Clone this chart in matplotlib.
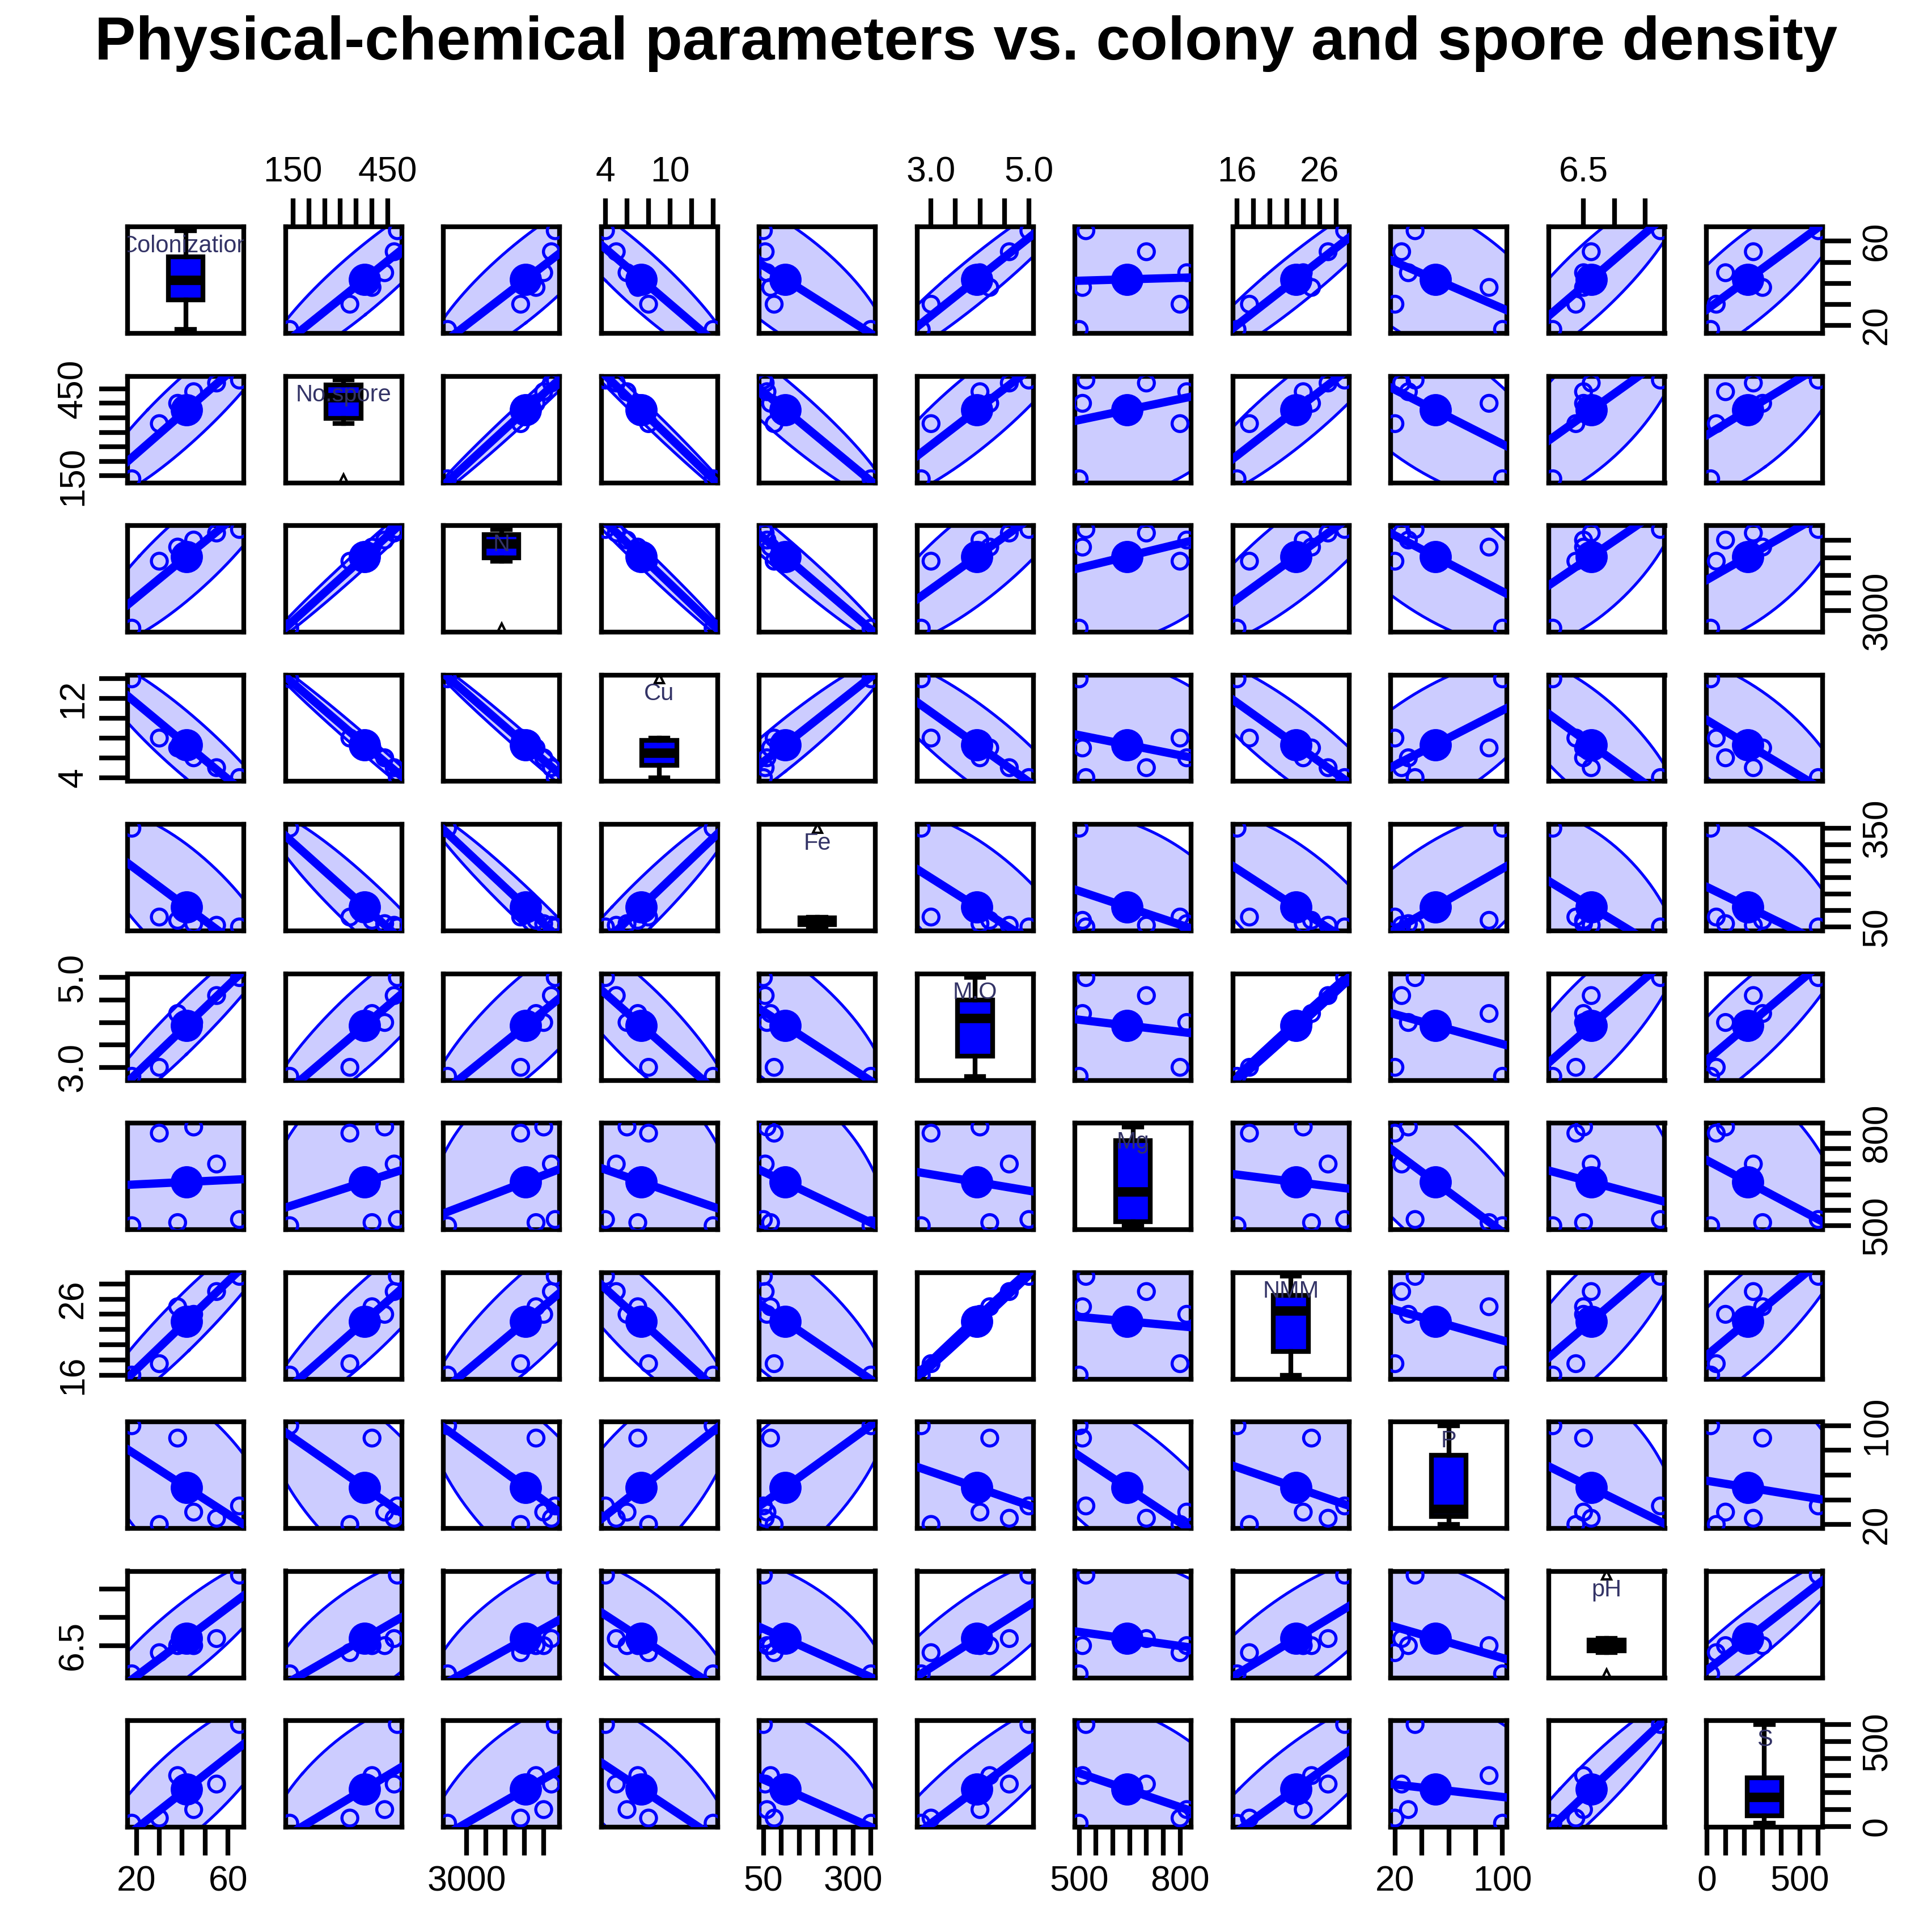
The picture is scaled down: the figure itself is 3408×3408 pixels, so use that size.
import numpy as np
import matplotlib
matplotlib.use("Agg")
import matplotlib.pyplot as plt

plt.rcParams["font.family"] = ["Liberation Sans", "DejaVu Sans"]

names = ["Colonization", "No.spore", "N", "Cu", "Fe", "M.O", "Mg", "NMM", "P", "pH", "S"]
colonization = [18, 30, 38, 45, 55, 65]
no_spore = [140, 330, 400, 440, 470, 480]
n_total = [2500, 4400, 4800, 5000, 5200, 5300]
cu = [14, 8, 7, 6, 5, 4]
fe = [350, 80, 70, 60, 55, 50]
mo = [2.8, 3.0, 4.2, 4.0, 4.6, 5.0]
mg = [500, 800, 510, 820, 700, 520]
nmm = [16, 17.5, 25, 24, 27, 29]
p = [100, 20, 90, 30, 25, 35]
ph = [6.3, 6.45, 6.5, 6.5, 6.55, 7.0]
s = [20, 50, 300, 100, 250, 600]
data = [colonization, no_spore, n_total, cu, fe, mo, mg, nmm, p, ph, s]

# ticks and which of them get labels
ticks = [
    ([20, 30, 40, 50, 60], ["20", "", "", "", "60"]),
    ([150, 200, 250, 300, 350, 400, 450], ["150", "", "", "", "", "", "450"]),
    ([3000, 3500, 4000, 4500, 5000, 5500], ["3000", "", "", "", "", ""]),
    ([4, 6, 8, 10, 12, 14], ["4", "", "", "10", "", ""]),
    ([50, 100, 150, 200, 250, 300, 350], ["50", "", "", "", "", "300", ""]),
    ([3.0, 3.5, 4.0, 4.5, 5.0], ["3.0", "", "", "", "5.0"]),
    ([500, 550, 600, 650, 700, 750, 800], ["500", "", "", "", "", "", "800"]),
    ([16, 18, 20, 22, 24, 26, 28, 30], ["16", "", "", "", "", "26", "", ""]),
    ([20, 40, 60, 80, 100], ["20", "", "", "", "100"]),
    ([6.5, 6.7, 6.9], ["6.5", "", ""]),
    ([0, 100, 200, 300, 400, 500, 600], ["0", "", "", "", "", "500", ""]),
]
yticks_lab = {
    0: ["20", "", "", "", "60"],
    1: ["150", "", "", "", "", "", "450"],
    2: ["3000", "", "", "", "", ""],
    3: ["4", "", "", "", "12", ""],
    4: ["50", "", "", "", "", "", "350"],
    5: ["3.0", "", "", "", "5.0"],
    6: ["500", "", "", "", "", "", "800"],
    7: ["16", "", "", "", "", "26", "", ""],
    8: ["20", "", "", "", "100"],
    9: ["6.5", "", ""],
    10: ["0", "", "", "", "", "500", ""],
}

blue = "#0000ff"
fill = "#ccccff"
k = len(names)
fig = plt.figure(figsize=(11.36, 11.36), dpi=300)
fig.suptitle("Physical-chemical parameters vs. colony and spore density",
             fontsize=26, fontweight="bold", x=0.5, y=0.992)

W, H = 3408.0, 3408.0
x0, pitch_x, pw = 225, 278.5, 205
y0, pitch_y, ph_ = 400, 263.5, 188


def lims(v):
    v = np.asarray(v, float)
    r = v.max() - v.min()
    return v.min() - 0.04 * r, v.max() + 0.04 * r


t = np.linspace(0, 2 * np.pi, 200)
for i in range(k):
    for j in range(k):
        left = (x0 + j * pitch_x) / W
        bottom = 1 - (y0 + i * pitch_y + ph_) / H
        ax = fig.add_axes([left, bottom, pw / W, ph_ / H])
        xv = np.asarray(data[j], float)
        yv = np.asarray(data[i], float)
        for sp in ax.spines.values():
            sp.set_linewidth(2)
        xl = lims(xv)
        ax.set_xlim(*xl)
        ax.set_ylim(*lims(yv))
        if i == j:
            xc = (xl[0] + xl[1]) / 2
            bp = ax.boxplot(yv, positions=[xc], widths=0.3 * (xl[1] - xl[0]), patch_artist=True,
                            whis=1.5, manage_ticks=False,
                            flierprops=dict(marker="^", markersize=4,
                                            markerfacecolor="white", markeredgecolor="black"))
            for b in bp["boxes"]:
                b.set_facecolor(blue)
                b.set_edgecolor("black")
                b.set_linewidth(2)
            for m in bp["medians"]:
                m.set_color("black")
                m.set_linewidth(4)
            for w in bp["whiskers"] + bp["caps"]:
                w.set_color("black")
                w.set_linewidth(2)
            ax.text(0.5, 0.82, names[i], transform=ax.transAxes, ha="center", va="center",
                    fontsize=10, color="#333366", clip_on=True)
        else:
            mx, my = xv.mean(), yv.mean()
            cov = np.cov(xv, yv)
            vals, vecs = np.linalg.eigh(cov)
            rad = np.sqrt(5.99)
            pts = vecs @ (np.sqrt(np.maximum(vals, 0))[:, None] * rad * np.vstack([np.cos(t), np.sin(t)]))
            ax.fill(pts[0] + mx, pts[1] + my, color=fill, zorder=1)
            ax.plot(pts[0] + mx, pts[1] + my, color=blue, lw=1.2, zorder=2)
            b1, b0 = np.polyfit(xv, yv, 1)
            xx = np.array(xl)
            ax.plot(xx, b0 + b1 * xx, color=blue, lw=3.5, zorder=3)
            ax.scatter(xv, yv, s=45, facecolors="none", edgecolors=blue, linewidths=1.3, zorder=4)
            ax.scatter([mx], [my], s=160, color=blue, zorder=5)
        ax.set_xticks([])
        ax.set_yticks([])
        tk, tl = ticks[j]
        if i == 0 and j % 2 == 1:
            ax.set_xticks(tk)
            ax.set_xticklabels(tl)
            ax.xaxis.tick_top()
        if i == k - 1 and j % 2 == 0:
            ax.set_xticks(tk)
            ax.set_xticklabels(tl)
        if j == 0 and i % 2 == 1:
            ax.set_yticks(ticks[i][0])
            ax.set_yticklabels(yticks_lab[i], rotation=90, va="center")
        if j == k - 1 and i % 2 == 0:
            ax.set_yticks(ticks[i][0])
            ax.set_yticklabels(yticks_lab[i], rotation=90, va="center")
            ax.yaxis.tick_right()
        ax.set_xlim(*xl)
        ax.set_ylim(*lims(yv))
        ax.tick_params(length=12, width=2, labelsize=15, pad=4)

fig.savefig("out.png", dpi=300)
